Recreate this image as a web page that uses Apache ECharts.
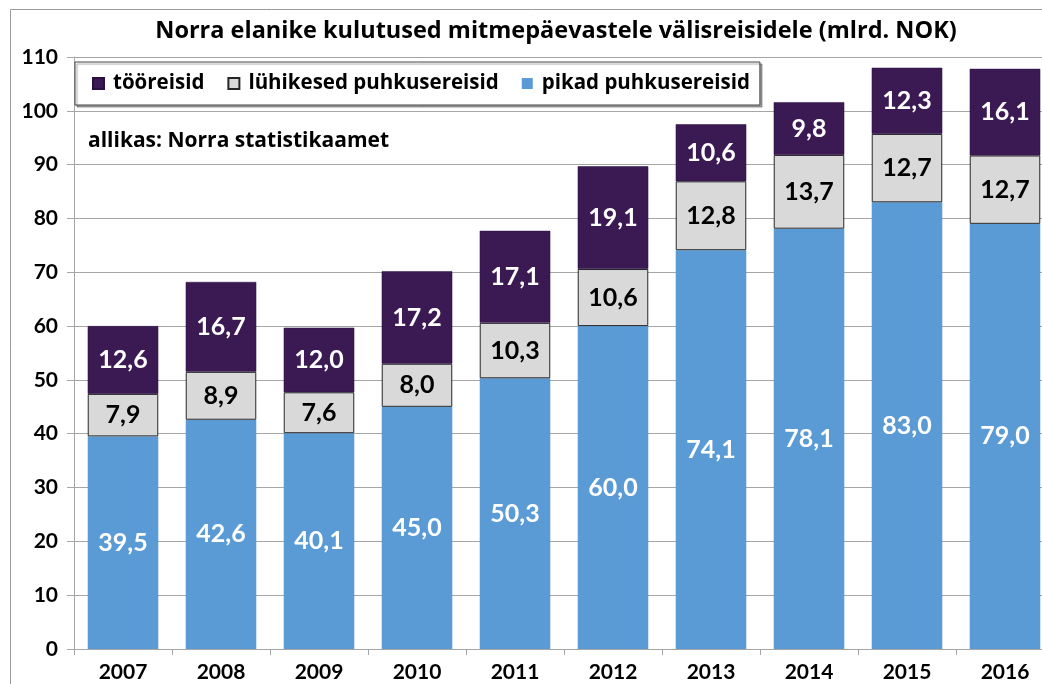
<!DOCTYPE html>
<html><head><meta charset="utf-8">
<script src="https://cdn.jsdelivr.net/npm/echarts@6/dist/echarts.min.js"></script>
<style>html,body{margin:0;padding:0;background:#fff;overflow:hidden}#c{width:1054px;height:684px}</style>
</head><body><div id="c"></div>
<script>
const categories = ['2007','2008','2009','2010','2011','2012','2013','2014','2015','2016'];
const tooreisid = [12.6,16.7,12.0,17.2,17.1,19.1,10.6,9.8,12.3,16.1];
const luhikesed = [7.9,8.9,7.6,8.0,10.3,10.6,12.8,13.7,12.7,12.7];
const pikad = [39.5,42.6,40.1,45.0,50.3,60.0,74.1,78.1,83.0,79.0];
const seriesNames = ['tööreisid','lühikesed puhkusereisid','pikad puhkusereisid'];
const titleText = 'Norra elanike kulutused mitmepäevastele välisreisidele (mlrd. NOK)';
const sourceText = 'allikas: Norra statistikaamet';

const FONT = 'Lato';
const WIDE = 'Open Sans';
const fmt = p => p.value.toFixed(1).replace('.', ',');
const chart = echarts.init(document.getElementById('c'));
const lbl = (color) => ({show:true, position:'inside', formatter:fmt, color:color, fontFamily:FONT, fontWeight:'bold', fontSize:25});
chart.setOption({
  animation:false,
  textStyle:{fontFamily:FONT},
  graphic:[
    {type:'rect', shape:{x:10.5,y:9.5,width:1200,height:900}, style:{fill:null, stroke:'#999', lineWidth:1}, z:-1},
    {type:'text', x:556, y:31, style:{text:titleText, textAlign:'center', textVerticalAlign:'middle', font:'bold 23.5px "Open Sans"', fill:'#000'}},
    {type:'text', x:88, y:141, style:{text:sourceText, textAlign:'left', textVerticalAlign:'middle', font:'bold 21px "Open Sans"', fill:'#000'}, z:10}
  ],
  legend:{
    data:seriesNames, left:75, top:62, width:900, icon:'rect',
    backgroundColor:'#fff', borderColor:'#444', borderWidth:1,
    padding:[11,10,11,17], itemWidth:11, itemHeight:11, itemGap:23,
    shadowColor:'rgba(0,0,0,0.35)', shadowOffsetX:2, shadowOffsetY:2, shadowBlur:1,
    textStyle:{fontFamily:WIDE, fontWeight:'bold', fontSize:20.5, color:'#000', padding:[0,0,0,4]}
  },
  grid:{left:74, right:0, top:57, bottom:35, containLabel:false},
  xAxis:{type:'category', data:categories,
    axisLine:{lineStyle:{color:'#A6A6A6'}}, axisTick:{show:true, length:6, lineStyle:{color:'#A6A6A6'}},
    axisLabel:{fontFamily:FONT, fontWeight:'bold', fontSize:21, color:'#000', margin:13}},
  yAxis:{type:'value', min:0, max:110, interval:10,
    axisLine:{show:true, lineStyle:{color:'#A6A6A6'}}, axisTick:{show:true, length:7, lineStyle:{color:'#A6A6A6'}},
    splitLine:{lineStyle:{color:'#A6A6A6'}},
    axisLabel:{fontFamily:FONT, fontWeight:'bold', fontSize:21, color:'#000', margin:16}},
  series:[
    {name:seriesNames[2], type:'bar', stack:'s', data:pikad, barCategoryGap:'28%',
      itemStyle:{color:'#5B9BD5'}, label:lbl('#fff')},
    {name:seriesNames[1], type:'bar', stack:'s', data:luhikesed,
      itemStyle:{color:'#D9D9D9', borderColor:'#262626', borderWidth:1}, label:lbl('#000')},
    {name:seriesNames[0], type:'bar', stack:'s', data:tooreisid,
      itemStyle:{color:'#3B1A54', borderColor:'#2a1040', borderWidth:0.5}, label:lbl('#fff')}
  ]
});
</script></body></html>
